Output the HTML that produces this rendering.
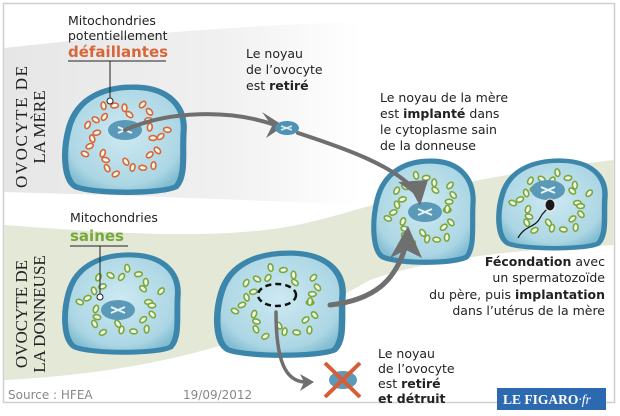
<!DOCTYPE html>
<html><head><meta charset="utf-8"><style>
html,body{margin:0;padding:0;background:#fff}
svg{display:block}
text{font-family:"DejaVu Sans","Liberation Sans",sans-serif}
.ser{font-family:"Liberation Serif",serif}
</style></head><body>
<svg id="s" width="620" height="416" viewBox="0 0 620 416" xmlns="http://www.w3.org/2000/svg">
<defs>
<linearGradient id="gg" x1="0" x2="1" y1="0" y2="0"><stop offset="0" stop-color="#e6e6e6"/><stop offset="0.6" stop-color="#f0f0f0"/><stop offset="1" stop-color="#fff"/></linearGradient>
<radialGradient id="cf" cx="0.5" cy="0.45" r="0.6"><stop offset="0" stop-color="#cde9f2"/><stop offset="0.8" stop-color="#acd6e4"/><stop offset="1" stop-color="#82bdd2"/></radialGradient>
<path id="cell" d="M10,95 C0,88 0,60 5,40 C12,12 35,2 60,3 C85,4 100,20 98,45 C97,65 100,85 92,95 C80,102 25,102 10,95 Z"/>
</defs>
<rect x="0" y="0" width="620" height="416" fill="#fff"/>
<rect x="3.5" y="3.5" width="611" height="399" fill="none" stroke="#cfcfcf" stroke-width="1.5"/>
<path d="M4,48 C120,35 250,25 360,22 L360,205 C250,200 120,195 4,192 Z" fill="url(#gg)"/>
<path d="M4,225 C100,232 200,240 280,228 C360,215 400,185 614,160 L614,245 C500,250 420,262 370,280 C300,320 200,370 4,380 Z" fill="#e3e8d7"/>
<g id="cells"></g>
<g fill="none" stroke="#6f6f6f" stroke-linecap="round">
<path d="M125,130 C170,110 230,110 272,124" stroke-width="4"/>
<path d="M298,133 C350,150 390,165 413,188" stroke-width="4"/>
<path d="M330,305 C375,300 395,280 405,248" stroke-width="5"/>
<path d="M276,312 C276,360 285,382 306,382" stroke-width="3.5"/>
</g>
<g fill="#6f6f6f">
<path d="M262,112 L284,126 L266,138 L272,126 Z"/>
<path d="M398,182 L428,180 L420,206 L413,193 Z"/>
<path d="M390,258 L408,226 L422,258 L406,250 Z"/>
<path d="M300,374 L314,382 L300,391 L304,382 Z"/>
</g>
<ellipse cx="287" cy="128" rx="12" ry="7" fill="#4f92b3"/>
<path d="M281,126 l11,4 M281,130 l11,-4" stroke="#dfeff5" stroke-width="1.6"/>
<ellipse cx="343" cy="380" rx="14" ry="9" fill="#5d9ab8"/>
<path d="M325,363 L360,397 M360,363 L325,397" stroke="#d65f3a" stroke-width="4"/>
<path d="M518,238 C525,225 535,228 540,218 C543,212 545,212 548,208" fill="none" stroke="#111" stroke-width="1.2"/>
<ellipse cx="550" cy="205" rx="5" ry="6" fill="#1a1a1a" stroke="#eee" stroke-width="1"/>
<g stroke="#222" stroke-width="1" fill="none">
<path d="M68,61 H166 M110,61 V99"/>
<path d="M70,246 H128 M100,246 V294"/>
</g>
<circle cx="110" cy="101" r="3" fill="#fff" stroke="#222"/>
<circle cx="100" cy="297" r="3" fill="#fff" stroke="#222"/>
<g font-size="12.5" fill="#222">
<text x="68" y="25">Mitochondries</text>
<text x="68" y="40">potentiellement</text>
<text x="68" y="57" font-size="15" font-weight="bold" fill="#d9663a">défaillantes</text>
<text x="246" y="58">Le noyau</text>
<text x="246" y="74">de l’ovocyte</text>
<text x="246" y="90">est <tspan font-weight="bold">retiré</tspan></text>
<text x="380" y="102">Le noyau de la mère</text>
<text x="380" y="118">est <tspan font-weight="bold">implanté</tspan> dans</text>
<text x="380" y="134">le cytoplasme sain</text>
<text x="380" y="150">de la donneuse</text>
<text x="70" y="222">Mitochondries</text>
<text x="70" y="241" font-size="15" font-weight="bold" fill="#78a83a">saines</text>
<g text-anchor="end">
<text x="605" y="266"><tspan font-weight="bold">Fécondation</tspan> avec</text>
<text x="605" y="282">un spermatozoïde</text>
<text x="605" y="299">du père, puis <tspan font-weight="bold">implantation</tspan></text>
<text x="605" y="315">dans l’utérus de la mère</text>
</g>
<text x="378" y="358">Le noyau</text>
<text x="378" y="373">de l’ovocyte</text>
<text x="378" y="388">est <tspan font-weight="bold">retiré</tspan></text>
<text x="378" y="403" font-weight="bold">et détruit</text>
</g>
<text x="8" y="399" font-size="12" fill="#888">Source : HFEA</text>
<text x="183" y="399" font-size="12" fill="#888">19/09/2012</text>
<g font-size="17" fill="#222" text-anchor="middle">
<text class="ser" transform="translate(27,127) rotate(-90)" textLength="122" lengthAdjust="spacing">OVOCYTE DE</text>
<text class="ser" transform="translate(45,127) rotate(-90)">LA MÈRE</text>
<text class="ser" transform="translate(27,314) rotate(-90)">OVOCYTE DE</text>
<text class="ser" transform="translate(45,314) rotate(-90)">LA DONNEUSE</text>
</g>
<rect x="497" y="388" width="109" height="22" fill="#2c69b0"/>
<text class="ser" x="503" y="404" font-size="13.5" font-weight="bold" fill="#fff">LE FIGARO<tspan font-weight="normal" font-style="italic">·fr</tspan></text>
</svg>
<script>
var NS="http://www.w3.org/2000/svg",g=document.getElementById("cells");
function el(t,a,p){var e=document.createElementNS(NS,t);for(var k in a)e.setAttribute(k,a[k]);(p||g).appendChild(e);return e;}
function cell(x,y,w,h,nx,ny,col,n,nuc){
 var gg=el("g",{});
 el("use",{href:"#cell",transform:"translate("+x+","+y+") scale("+(w/100)+","+(h/100)+")",fill:"url(#cf)",stroke:"#3c86ab","stroke-width":"5","vector-effect":"non-scaling-stroke"},gg);
 var cx=x+w/2,cy=y+h/2;
 for(var i=0;i<n;i++){
  var a=i/n*6.283+ (i%3)*0.2, r=0.55+0.3*((i*7)%5)/4;
  var px=cx+Math.cos(a)*w*0.42*r, py=cy+Math.sin(a)*h*0.4*r;
  el("ellipse",{cx:px,cy:py,rx:3.8,ry:2.4,transform:"rotate("+(i*47%180)+" "+px+" "+py+")",fill:"#f4f8e8",stroke:col,"stroke-width":"1.6"},gg);
 }
 if(nuc==1){el("ellipse",{cx:nx,cy:ny,rx:17,ry:10,fill:"#5a9ab8"},gg);
  el("path",{d:"M"+(nx-7)+","+(ny-3)+" l14,6 M"+(nx-7)+","+(ny+3)+" l14,-6",stroke:"#e6f3f8","stroke-width":"2"},gg);}
 if(nuc==2){el("ellipse",{cx:nx,cy:ny,rx:19,ry:11,fill:"none",stroke:"#111","stroke-width":"2.5","stroke-dasharray":"6 4"},gg);}
}
cell(63,84,123,108,125,130,"#d9663a",28,1);
cell(63,252,117,100,118,310,"#78a83a",24,1);
cell(215,250,130,105,277,295,"#78a83a",26,2);
cell(372,158,103,104,425,212,"#78a83a",26,1);
cell(497,158,110,90,548,190,"#78a83a",24,1);
</script>
</body></html>
